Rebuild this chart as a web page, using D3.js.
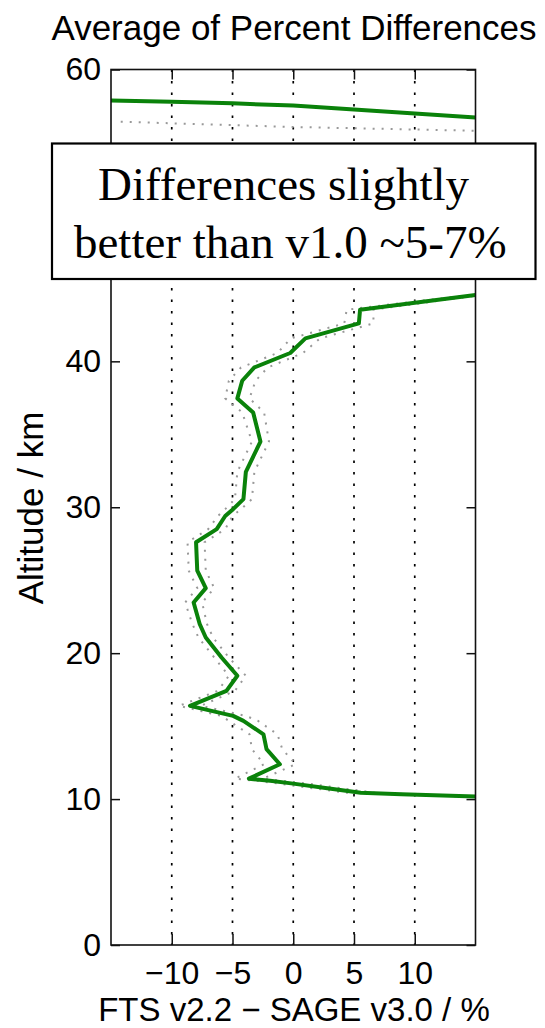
<!DOCTYPE html>
<html>
<head>
<meta charset="utf-8">
<script src="https://cdn.jsdelivr.net/npm/d3@7"></script>
<style>
    body { margin: 0; background: #fff; }
    svg { display: block; }
    .axis text { font-family: "Liberation Sans", Arial, sans-serif; font-size: 32px; fill: #000; }
    .axis path { display: none; }
    .axis line { stroke: #111; stroke-width: 1.5; }
</style>
</head>
<body>
<div id="chart"></div>
<script>
// Mean difference profile (null = off the chart, line broken there)
const meanAltitude = [57.87, 57.79, 57.68, 57.53, 57.26, 56.98, 56.71, null,
    44.55, 43.54, 42.6, 41.57, 40.57, 39.58, 38.67, 37.46, 36.5, 34.5, 32.43, 30.56,
    29.87, 29.4, 28.5, 27.6, 25.65, 24.46, 23.47, 22.0, 21.07, 19.7, 18.45, 17.42,
    16.39, 15.7, 15.36, 14.44, 13.42, 12.39, 11.4, 11.25, 11.06, 10.74, 10.44, 10.33, 10.17];
const meanDiff = [-15, -10, -5, 0, 5, 10, 15, null,
    15, 5.5, 5.4, 1.0, -0.25, -3.2, -4.2, -4.6, -3.3, -2.7, -3.9, -4.1,
    -4.95, -5.6, -6.3, -8.0, -7.9, -7.2, -8.2, -7.7, -7.2, -5.9, -4.6, -5.5,
    -8.5, -4.95, -4.1, -2.45, -2.2, -1.1, -3.65, -1.9, 0.0, 2.8, 5.55, 8.9, 15];

// Dotted spread lines either side of the mean
const lowerAltitude = [56.42, 56.06, 55.8, null,
    44.55, 43.54, 42.6, 41.57, 40.57, 39.58, 38.67, 37.46, 36.5, 34.5, 32.43, 30.56,
    29.87, 29.4, 28.5, 27.6, 25.65, 24.46, 23.47, 22.0, 21.07, 19.7, 18.45, 17.42,
    16.39, 15.7, 15.36, 14.44, 13.42, 12.39, 11.4, 11.25, 11.06, 10.74, 10.44, 10.33, 10.17];
const lowerDiff = [-14.2, 0, 15, null,
    14.5, 4.4, 4.2, -0.2, -1.3, -4.3, -5.3, -5.6, -4.2, -3.4, -4.6, -4.8,
    -5.6, -6.2, -7.0, -8.7, -8.6, -7.9, -8.9, -8.3, -7.8, -6.5, -5.3, -6.2,
    -9.4, -5.9, -5.3, -3.6, -3.4, -2.4, -4.8, -3.0, -1.2, 1.6, 4.4, 8.0, 14.5];
const upperAltitude = [44.55, 43.54, 42.6, 41.57, 40.57, 39.58, 38.67, 37.46, 36.5, 34.5,
    32.43, 30.56, 29.87, 29.4, 28.5, 27.6, 25.65, 24.46, 23.47, 22.0, 21.07, 19.7,
    18.45, 17.42, 16.39, 15.7, 15.36, 14.44, 13.42, 12.39, 11.4, 11.25, 11.06, 10.74,
    10.44, 10.33, 10.17];
const upperDiff = [15.5, 6.6, 6.6, 2.2, 0.8, -2.1, -3.1, -3.6, -2.4, -2.0,
    -3.2, -3.4, -4.3, -5.0, -5.6, -7.3, -7.2, -6.5, -7.5, -7.1, -6.6, -5.3,
    -3.9, -4.8, -7.6, -3.9, -2.9, -1.3, -0.9, 0.2, -2.5, -0.8, 1.2, 4.0,
    6.7, 9.8, 15.5];

const xTicks = [-10, -5, 0, 5, 10];
const yTicks = [0, 10, 20, 30, 40, 50, 60];
const titleText = "Average of Percent Differences";
const xLabel = "FTS v2.2 \u2212 SAGE v3.0 / %";
const yLabel = "Altitude / km";
const noteLines = ["Differences slightly", "better than v1.0 ~5-7%"];

const W = 545, H = 1028;
const plot = { left: 111, right: 475.5, top: 69.5, bottom: 945 };

const svg = d3.select("#chart").append("svg").attr("width", W).attr("height", H);
svg.append("rect").attr("width", W).attr("height", H).attr("fill", "#fff");

const x = d3.scaleLinear().domain([-15, 15]).range([plot.left, plot.right]);
const y = d3.scaleLinear().domain([0, 60]).range([plot.bottom, plot.top]);

svg.append("clipPath").attr("id", "clip")
    .append("rect")
    .attr("x", plot.left).attr("y", plot.top)
    .attr("width", plot.right - plot.left).attr("height", plot.bottom - plot.top);

// vertical dotted grid
svg.append("g")
    .selectAll("line")
    .data(xTicks)
    .enter()
    .append("line")
    .attr("x1", (d) => x(d)).attr("x2", (d) => x(d))
    .attr("y1", plot.top).attr("y2", plot.bottom)
    .attr("stroke", "#000")
    .attr("stroke-width", 1.7)
    .attr("stroke-dasharray", "2.4,9.1");

/**
 * Zip altitude and value arrays into points
 */
function zip(alt, val) {
    return alt.map((a, i) => ({ a, v: val[i] }));
}

const line = d3.line()
    .defined((d) => d.a != null && d.v != null)
    .x((d) => x(d.v))
    .y((d) => y(d.a));

const lines = svg.append("g").attr("clip-path", "url(#clip)");

[zip(lowerAltitude, lowerDiff), zip(upperAltitude, upperDiff)].map((pts) => {
    lines.append("path")
        .datum(pts)
        .attr("d", line)
        .attr("fill", "none")
        .attr("stroke", "#999")
        .attr("stroke-width", 2)
        .attr("stroke-dasharray", "2,7");
});

lines.append("path")
    .datum(zip(meanAltitude, meanDiff))
    .attr("d", line)
    .attr("fill", "none")
    .attr("stroke", "#0a820a")
    .attr("stroke-width", 4)
    .attr("stroke-linejoin", "round");

// axes: ticks point inward on all four sides; the 50 label sits under the note box
svg.append("g").attr("class", "axis")
    .attr("transform", `translate(0,${plot.bottom})`)
    .call(d3.axisBottom(x).tickValues(xTicks).tickSizeInner(-11).tickSizeOuter(0).tickPadding(16));
svg.append("g").attr("class", "axis")
    .attr("transform", `translate(0,${plot.top})`)
    .call(d3.axisTop(x).tickValues(xTicks).tickSizeInner(-10).tickSizeOuter(0).tickFormat(""));
svg.append("g").attr("class", "axis")
    .attr("transform", `translate(${plot.left},0)`)
    .call(d3.axisLeft(y).tickValues(yTicks).tickSizeInner(-9).tickSizeOuter(0).tickPadding(10)
        .tickFormat((d) => (d === 50 ? "" : d)));
svg.append("g").attr("class", "axis")
    .attr("transform", `translate(${plot.right},0)`)
    .call(d3.axisRight(y).tickValues(yTicks).tickSizeInner(-9).tickSizeOuter(0).tickFormat(""));

svg.append("rect")
    .attr("x", plot.left).attr("y", plot.top)
    .attr("width", plot.right - plot.left).attr("height", plot.bottom - plot.top)
    .attr("fill", "none")
    .attr("stroke", "#111")
    .attr("stroke-width", 1.6);

const sans = "'Liberation Sans', Arial, sans-serif";

svg.append("text")
    .attr("x", 294).attr("y", 40)
    .attr("text-anchor", "middle")
    .attr("font-family", sans).attr("font-size", 35)
    .text(titleText);

svg.append("text")
    .attr("x", 294).attr("y", 1021)
    .attr("text-anchor", "middle")
    .attr("font-family", sans).attr("font-size", 33)
    .text(xLabel);

svg.append("text")
    .attr("transform", "translate(43,508) rotate(-90)")
    .attr("text-anchor", "middle")
    .attr("font-family", sans).attr("font-size", 35)
    .text(yLabel);

// annotation box over the plot
svg.append("rect")
    .attr("x", 52).attr("y", 143.5)
    .attr("width", 483.5).attr("height", 135.5)
    .attr("fill", "#fff")
    .attr("stroke", "#000")
    .attr("stroke-width", 2.2);

const noteX = [98, 74], noteY = [200, 257.5];
svg.append("g")
    .selectAll("text")
    .data(noteLines)
    .enter()
    .append("text")
    .attr("x", (d, i) => noteX[i])
    .attr("y", (d, i) => noteY[i])
    .attr("font-family", "'Liberation Serif', 'Times New Roman', serif")
    .attr("font-size", 47)
    .text((d) => d);
</script>
</body>
</html>
